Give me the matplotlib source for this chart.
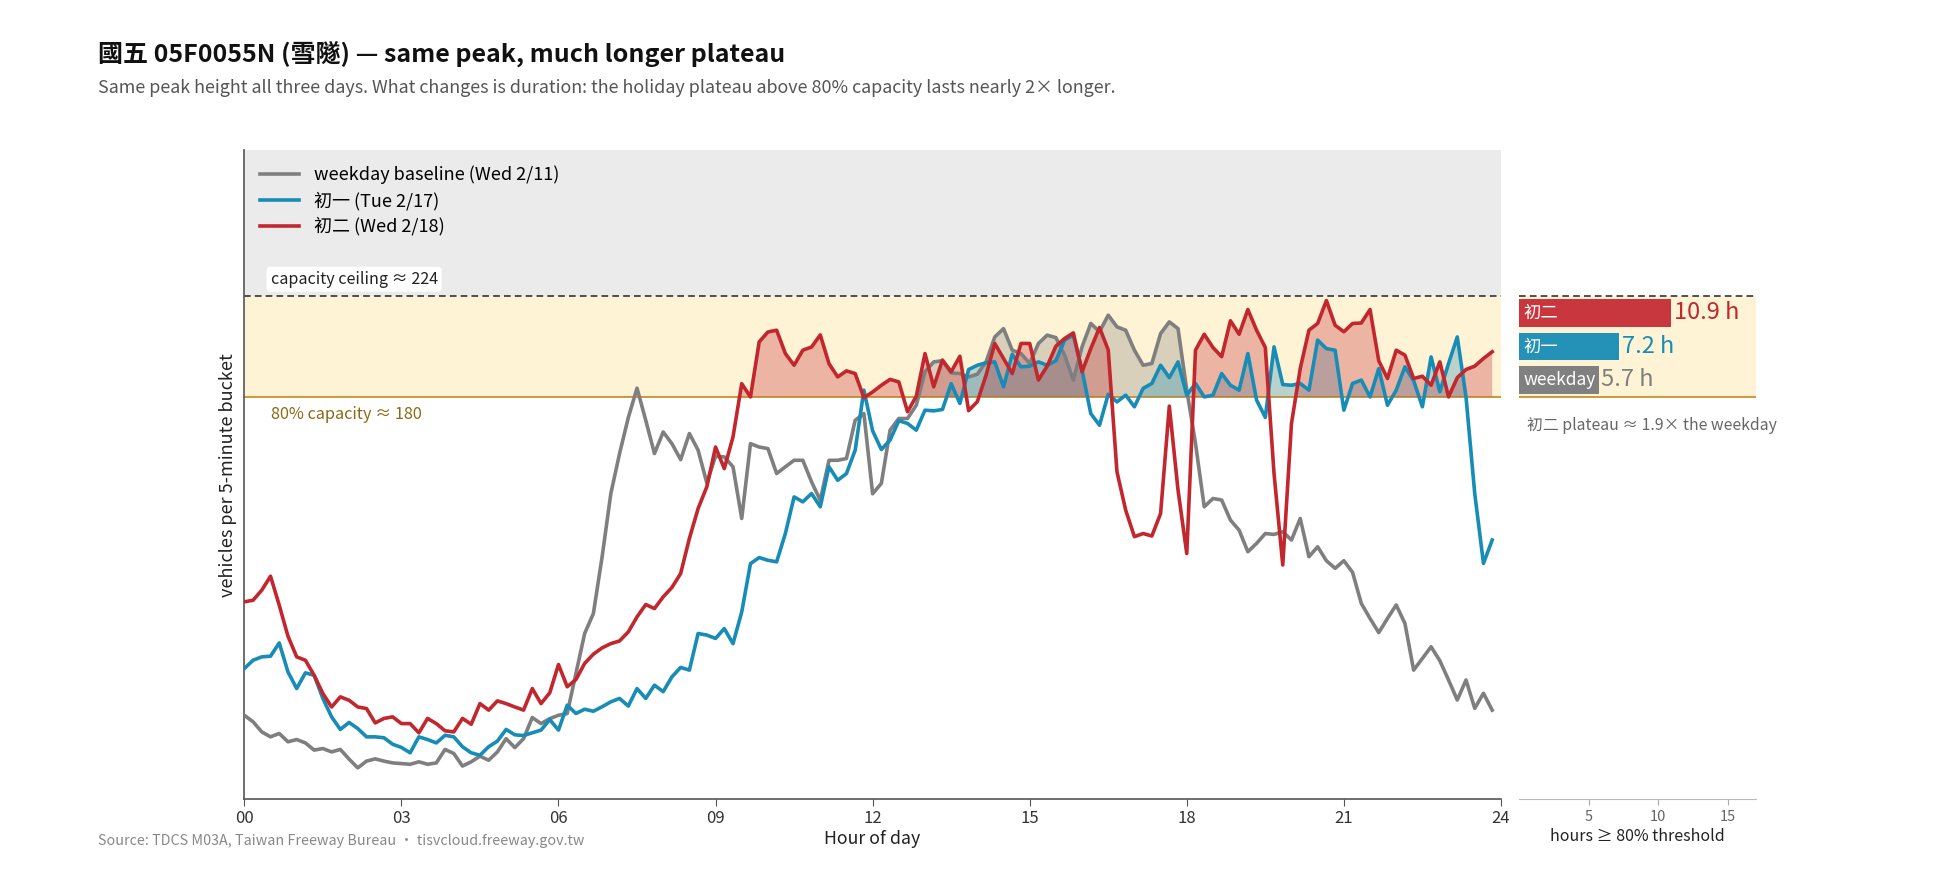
import numpy as np
import matplotlib
matplotlib.use("Agg")
import matplotlib.pyplot as plt
from matplotlib.transforms import blended_transform_factory

plt.rcParams["font.family"] = ["Noto Sans CJK TC", "DejaVu Sans"]

CAPACITY = 224
THRESHOLD = 0.8 * CAPACITY

# vehicles per 5-minute bucket, sampled every 10 minutes (00:00 .. 23:50)
weekday = [
    37.4, 34.5, 30.0, 27.8, 29.3, 25.6, 26.6, 25.1, 21.9, 22.6, 21.1, 22.2,
    17.9, 14.0, 17.0, 18.0, 17.0, 16.2, 15.9, 15.6, 16.7, 15.6, 16.2, 22.2,
    20.4, 14.8, 16.7, 19.2, 17.4, 21.1, 27.0, 23.0, 27.0, 36.4, 33.7, 35.9,
    37.4, 38.2, 56.0, 73.8, 82.7, 107.9, 136.1, 153.9, 169.9, 183.0, 168.7, 153.9,
    163.5, 158.3, 151.2, 162.8, 155.4, 140.8, 152.7, 152.4, 148.0, 125.0, 158.3, 156.8,
    156.1, 145.0, 148.0, 150.9, 150.9, 141.3, 133.1, 150.9, 150.9, 151.7, 168.7, 171.7,
    136.0, 140.6, 164.3, 169.5, 169.5, 175.4, 190.3, 194.7, 195.2, 189.8, 189.5, 188.0,
    189.2, 194.7, 205.8, 209.5, 199.9, 198.4, 194.0, 202.9, 206.6, 205.5, 197.7, 186.6,
    201.4, 211.8, 208.1, 215.5, 210.3, 208.8, 199.9, 193.2, 194.0, 207.3, 212.5, 209.5,
    182.1, 158.4, 130.2, 133.9, 133.2, 124.3, 119.8, 110.2, 113.9, 118.3, 117.9, 119.1,
    115.4, 125.0, 108.0, 112.4, 106.2, 102.8, 106.2, 101.0, 87.2, 80.5, 74.2, 80.5,
    86.5, 78.3, 57.5, 62.7, 67.9, 61.7, 53.1, 44.2, 53.1, 40.5, 47.2, 39.7,
]
chuyi = [
    58.2, 61.9, 63.4, 63.7, 69.6, 56.7, 49.3, 56.3, 55.2, 44.9, 36.7, 31.1,
    34.2, 31.5, 27.8, 27.8, 27.4, 24.5, 23.1, 20.7, 27.8, 26.6, 25.1, 28.5,
    27.8, 23.4, 20.7, 19.6, 23.4, 25.9, 31.1, 28.7, 28.4, 29.6, 30.8, 35.5,
    30.8, 41.9, 38.2, 40.1, 39.2, 41.2, 43.4, 44.9, 41.5, 49.3, 44.9, 50.8,
    47.9, 54.5, 58.7, 57.5, 73.8, 73.1, 71.6, 76.0, 69.3, 83.4, 104.9, 107.6,
    106.4, 105.7, 118.3, 134.6, 132.4, 136.1, 130.2, 148.0, 142.0, 145.0, 155.4, 182.1,
    164.0, 155.7, 159.9, 168.5, 167.3, 164.3, 173.2, 172.9, 173.5, 185.0, 176.2, 191.3,
    193.2, 194.3, 194.7, 183.6, 198.1, 192.5, 192.8, 194.7, 193.2, 195.2, 204.4, 206.6,
    191.0, 171.7, 166.5, 180.3, 176.9, 179.9, 174.7, 182.9, 185.1, 193.2, 187.7, 194.7,
    179.9, 185.1, 179.1, 179.9, 189.5, 184.3, 182.1, 198.4, 177.7, 170.0, 201.4, 184.6,
    184.3, 185.1, 182.1, 204.4, 200.6, 199.9, 173.2, 185.1, 186.6, 179.1, 191.7, 175.4,
    182.1, 192.5, 186.3, 174.7, 196.9, 181.4, 194.0, 205.8, 179.1, 136.1, 105.0, 115.4,
]
chuer = [
    87.9, 88.6, 93.1, 99.3, 86.4, 72.6, 63.4, 61.9, 55.2, 47.1, 41.1, 45.6,
    44.1, 41.1, 40.4, 34.0, 36.0, 36.7, 33.7, 33.7, 29.6, 36.0, 33.7, 30.5,
    30.0, 36.0, 33.4, 42.6, 39.7, 43.8, 42.6, 41.1, 39.7, 49.3, 42.6, 47.4,
    60.0, 50.1, 53.3, 60.5, 64.6, 67.4, 69.3, 70.5, 74.5, 81.2, 86.7, 84.9,
    90.1, 94.3, 100.5, 116.1, 129.4, 139.1, 156.8, 147.2, 161.3, 185.0, 179.1, 203.6,
    208.0, 208.8, 198.4, 193.2, 199.9, 201.3, 206.7, 193.9, 188.0, 190.7, 189.5, 178.8,
    181.3, 184.3, 186.9, 185.8, 172.5, 179.4, 198.4, 183.6, 195.5, 190.3, 197.2, 173.0,
    177.0, 188.8, 202.9, 196.2, 189.5, 202.9, 202.9, 186.6, 192.8, 201.7, 205.1, 207.6,
    190.3, 200.6, 210.0, 200.0, 145.8, 128.7, 116.9, 118.3, 117.2, 127.2, 175.0, 137.6,
    109.4, 199.9, 207.0, 201.1, 197.0, 213.0, 207.0, 218.0, 208.8, 201.1, 145.0, 104.3,
    167.3, 191.7, 208.8, 211.8, 222.0, 211.0, 208.1, 211.8, 212.0, 218.0, 195.2, 187.3,
    199.9, 197.7, 187.3, 188.3, 184.3, 194.7, 179.1, 187.7, 191.3, 192.8, 196.2, 199.2,
]
hours = np.arange(len(weekday)) / 6.0

series = [weekday, chuyi, chuer]
series_labels = ["weekday baseline (Wed 2/11)", "初一 (Tue 2/17)", "初二 (Wed 2/18)"]
series_colors = ["#7f7f7f", "#178cb6", "#c1272d"]

bar_names = ["weekday", "初一", "初二"]
bar_hours = [5.7, 7.2, 10.9]
bar_colors = ["#808080", "#2492b6", "#c8373d"]

x_ticks = list(range(0, 25, 3))
x_ticklabels = [f"{h:02d}" for h in x_ticks]

YTOP = 289
fig = plt.figure(figsize=(19.5, 8.84), dpi=100, facecolor="white")
ax = fig.add_axes([0.1253, 0.0958, 0.6444, 0.7345])
bx = fig.add_axes([0.7792, 0.0958, 0.1211, 0.7345])

# --- main chart ---
ax.axhspan(CAPACITY, YTOP, color="#ebebeb", lw=0, zorder=0)
ax.axhspan(THRESHOLD, CAPACITY, color="#fff3d6", lw=0, zorder=0)
ax.axhline(CAPACITY, color="#333333", ls=(0, (4, 2.5)), lw=1.2, zorder=1)
ax.axhline(THRESHOLD, color="#c8912e", lw=1.3, zorder=1)

for y, lab, col in zip(series, series_labels, series_colors):
    y = np.asarray(y)
    ax.fill_between(hours, THRESHOLD, y, where=y >= THRESHOLD, interpolate=True,
                    color=col, alpha=0.3, lw=0, zorder=2)
for y, lab, col in zip(series, series_labels, series_colors):
    ax.plot(hours, y, color=col, lw=2.6, label=lab, zorder=3)

ax.text(0.5, 231.5, f"capacity ceiling ≈ {CAPACITY}", fontsize=11.6, color="#222222",
        ha="left", va="center", zorder=4,
        bbox=dict(boxstyle="round,pad=0.25", fc="white", ec="none"))
ax.text(0.5, 171.5, f"80% capacity ≈ {round(THRESHOLD, -1):.0f}", fontsize=11.7,
        color="#8b6914", ha="left", va="center", zorder=4)

ax.set_xlim(0, 24)
ax.set_ylim(0, YTOP)
ax.set_xticks(x_ticks)
ax.set_xticklabels(x_ticklabels)
ax.set_yticks([])
ax.tick_params(axis="x", length=5, color="#555555", labelsize=12, labelcolor="#333333", pad=3)
for s in ("top", "right"):
    ax.spines[s].set_visible(False)
ax.spines["left"].set_color("#555555")
ax.spines["bottom"].set_color("#555555")
ax.spines["left"].set_linewidth(1.2)
ax.spines["bottom"].set_linewidth(1.2)
ax.set_xlabel("Hour of day", fontsize=12.8, color="#222222", labelpad=2)
ax.set_ylabel("vehicles per 5-minute bucket", fontsize=13, color="#222222", labelpad=5)
ax.legend(loc="upper left", frameon=False, fontsize=13, handlelength=2.2,
          handletextpad=0.8, borderaxespad=0.45, labelspacing=0.4)

# --- side bar panel ---
bx.axhspan(THRESHOLD, CAPACITY, color="#fff3d6", lw=0, zorder=0)
bx.axhline(CAPACITY, color="#333333", ls=(0, (4, 2.5)), lw=1.2, zorder=1)
bx.axhline(THRESHOLD, color="#c8912e", lw=1.3, zorder=1)
step = (CAPACITY - THRESHOLD) / 3
ys = THRESHOLD + step * (np.arange(3) + 0.5)
bx.barh(ys, bar_hours, height=step * 0.82, color=bar_colors, zorder=2)
for yy, h, name, col, tcol in zip(ys, bar_hours, bar_names, bar_colors, series_colors):
    bx.text(0.3, yy, name, color="white", fontsize=12.5,
            va="center", ha="left", zorder=3)
    bx.text(h + 0.2, yy, f"{h:.1f} h", color=tcol, fontsize=17, va="center",
            ha="left", zorder=3)
trans = blended_transform_factory(bx.transAxes, bx.transData)
bx.text(0.03, 166.5, f"初二 plateau ≈ {bar_hours[2] / bar_hours[0]:.1f}× the weekday",
        transform=trans, fontsize=11.4, color="#666666", va="center", ha="left")

bx.set_xlim(0, 17)
bx.set_ylim(0, YTOP)
bx.set_xticks([5, 10, 15])
bx.set_yticks([])
bx.tick_params(axis="x", length=4, color="#aaaaaa", labelsize=10.5, labelcolor="#666666")
for s in ("top", "right", "left"):
    bx.spines[s].set_visible(False)
bx.spines["bottom"].set_color("#bbbbbb")
bx.set_xlabel("hours ≥ 80% threshold", fontsize=11.5, color="#222222", labelpad=3)

# --- titles ---
fig.text(0.05, 0.9395, "國五 05F0055N (雪隧) — same peak, much longer plateau",
         fontsize=18, fontweight="bold", color="#111111", va="center", ha="left")
fig.text(0.05, 0.900, "Same peak height all three days. What changes is duration: the holiday "
         "plateau above 80% capacity lasts nearly 2× longer.",
         fontsize=12.9, color="#555555", va="center", ha="left")
fig.text(0.05, 0.049, "Source: TDCS M03A, Taiwan Freeway Bureau · tisvcloud.freeway.gov.tw",
         fontsize=10.3, color="#888888", va="center", ha="left")

fig.savefig("out.png", dpi=100, facecolor="white")
